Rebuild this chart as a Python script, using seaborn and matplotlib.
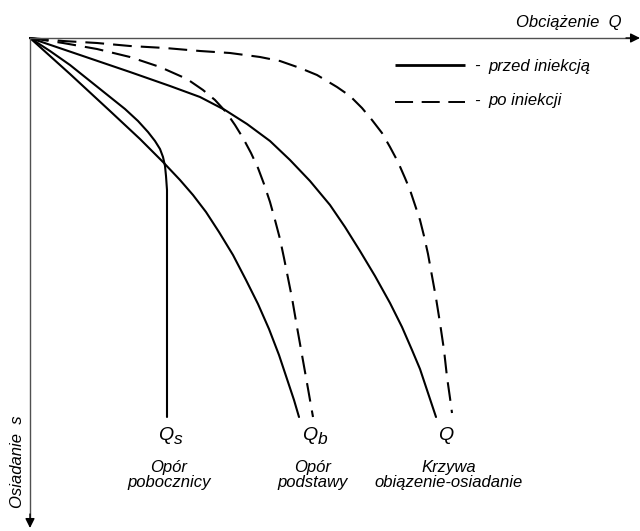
import pandas as pd
import matplotlib
matplotlib.use("Agg")
import matplotlib.pyplot as plt
import seaborn as sns

# krzywe (Q w prawo, s w dol; jednostki umowne)
qs_przed_Q = [0, 20, 40, 60, 80, 95, 108, 118, 125, 130, 133, 135, 136, 137, 137, 137]
qs_przed_s = [0, 13, 27, 43, 59, 71, 83, 94, 103, 111, 119, 128, 138, 152, 172, 379]

qb_przed_Q = [0, 40, 80, 110, 133, 150, 163, 176, 189, 203, 216, 228, 239, 249, 257, 264, 269]
qb_przed_s = [0, 36, 73, 101, 124, 142, 157, 174, 194, 217, 242, 266, 291, 317, 341, 362, 379]

q_przed_Q = [0, 50, 100, 140, 170, 195, 217, 240, 260, 280, 300, 315, 330, 345, 360,
             372, 382, 390, 398, 406]
q_przed_s = [0, 17, 34, 48, 59, 72, 86, 103, 122, 143, 167, 189, 213, 238, 265,
             289, 312, 331, 355, 379]

qb_po_Q = [0, 33, 67, 100, 130, 157, 173, 185, 196, 205, 213, 221, 228, 234, 240, 245,
           250, 254, 258, 262, 267, 272, 277, 283]
qb_po_s = [0, 5, 11, 19, 29, 41, 52, 62, 74, 87, 100, 115, 130, 146, 164, 182,
           201, 220, 240, 260, 289, 317, 345, 379]

q_po_Q = [0, 33, 67, 100, 135, 170, 200, 230, 250, 270, 287, 307, 320, 332, 342, 352,
          360, 368, 375, 380, 385, 390, 394, 398, 402, 406, 410, 414, 417, 420, 422]
q_po_s = [0, 3, 5, 8, 10, 13, 15, 19, 23, 30, 37, 49, 58, 70, 82, 95,
          109, 124, 140, 152, 167, 182, 198, 216, 238, 260, 285, 312, 339, 360, 375]

curves = {
    ("Qs", "przed iniekcją"): (qs_przed_Q, qs_przed_s),
    ("Qb", "przed iniekcją"): (qb_przed_Q, qb_przed_s),
    ("Q", "przed iniekcją"): (q_przed_Q, q_przed_s),
    ("Qb", "po iniekcji"): (qb_po_Q, qb_po_s),
    ("Q", "po iniekcji"): (q_po_Q, q_po_s),
}

rows = []
for (name, stan), (qq, ss) in curves.items():
    for a, b in zip(qq, ss):
        rows.append({"krzywa": name + " " + stan, "stan": stan, "Q": a, "s": b})
df = pd.DataFrame(rows)

sns.set_style("white")
plt.rcParams["font.family"] = ["Liberation Sans", "DejaVu Sans"]
plt.rcParams["text.color"] = "black"
plt.rcParams["lines.scale_dashes"] = False

fig = plt.figure(figsize=(6.4, 5.31), dpi=100)
ax = fig.add_axes([0, 0, 1, 1])

sns.lineplot(data=df, x="Q", y="s", units="krzywa", estimator=None, sort=False,
             style="stan", dashes={"przed iniekcją": "", "po iniekcji": (13.5, 6.5)},
             color="black", linewidth=1.5, legend=False, ax=ax)

ax.set_xlim(-30, 610)
ax.set_ylim(493, -38)
ax.axis("off")

# osie ze strzalkami
axis_col = "#505050"
ax.plot([0, 600], [0, 0], color=axis_col, lw=1.0)
ax.plot([0, 0], [0, 480], color=axis_col, lw=1.0)
ax.annotate("", xy=(610, 0), xytext=(596, 0),
            arrowprops=dict(arrowstyle="-|>", color="black", lw=1.0,
                            mutation_scale=14, shrinkA=0, shrinkB=0))
ax.annotate("", xy=(0, 490), xytext=(0, 476),
            arrowprops=dict(arrowstyle="-|>", color="black", lw=1.0,
                            mutation_scale=14, shrinkA=0, shrinkB=0))

fs = 12
ax.text(592, -16, "Obciążenie  Q", ha="right", va="center", fontsize=fs, style="italic")
ax.text(-12, 424, "Osiadanie  s", ha="center", va="center", fontsize=fs,
        style="italic", rotation=90)

# legenda
ax.plot([365, 435], [27, 27], color="black", lw=2.0, solid_capstyle="butt")
ax.plot([365, 435], [63.5, 63.5], color="black", lw=1.4, dashes=(13, 6.2),
        dash_capstyle="butt")
ax.text(447, 28, "-", ha="center", va="center", fontsize=fs, style="italic")
ax.text(447, 63, "-", ha="center", va="center", fontsize=fs, style="italic")
ax.text(458, 28, "przed iniekcją", ha="left", va="center", fontsize=fs, style="italic")
ax.text(458, 62, "po iniekcji", ha="left", va="center", fontsize=fs, style="italic")

# opisy krzywych
for x, sub, opis in [(136, "s", "Opór\npobocznicy"),
                     (280, "b", "Opór\npodstawy"),
                     (416, "", "Krzywa\nobiązenie-osiadanie")]:
    ax.text(x, 402, "Q", ha="center", va="baseline", fontsize=14, style="italic")
    if sub:
        ax.text(x + 7.5, 406, sub, ha="left", va="baseline", fontsize=12.5, style="italic")
    ax.text(x + 3, 437, opis, ha="center", va="center", fontsize=fs,
            style="italic", linespacing=0.95)

fig.savefig("out.png", dpi=100)
plt.close(fig)
